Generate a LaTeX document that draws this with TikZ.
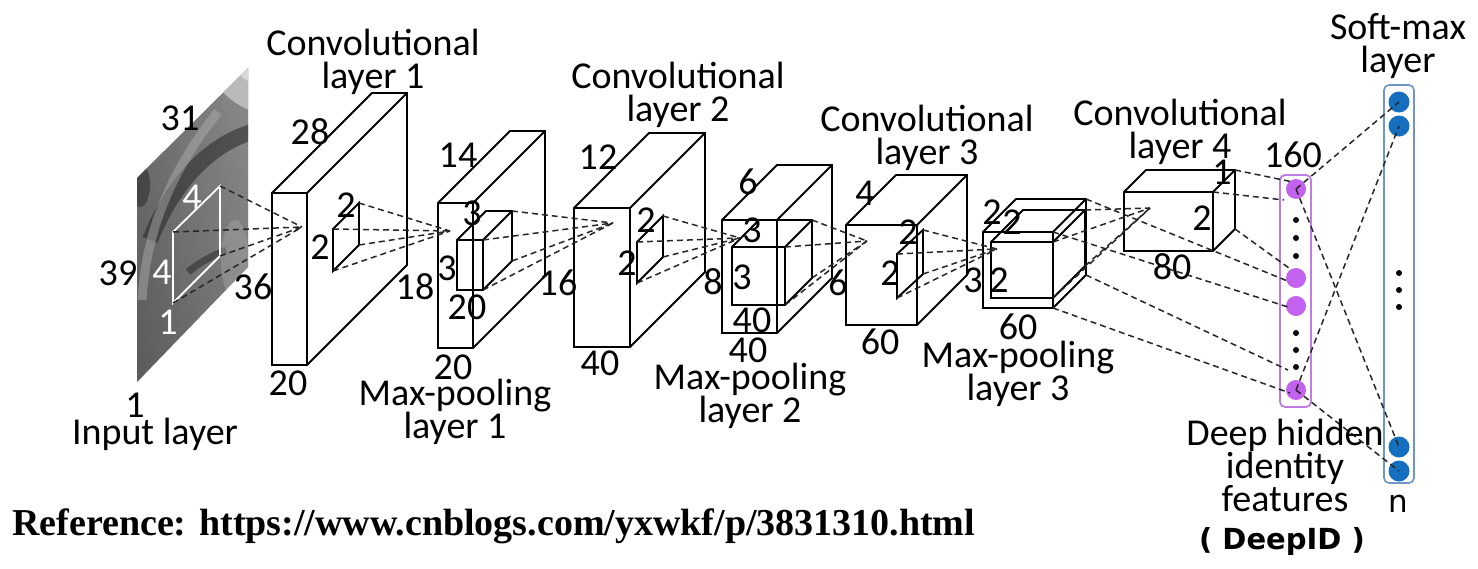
\documentclass[tikz,border=0pt]{standalone}
\usepackage{fontspec}
\setmainfont{Carlito}
\newfontfamily\djv{DejaVu Sans}
\newfontfamily\tms{Liberation Serif}
\definecolor{purp}{RGB}{196,98,240}
\definecolor{purpline}{RGB}{190,125,228}
\definecolor{bdot}{RGB}{22,110,190}
\definecolor{bline}{RGB}{110,150,205}
% #1 name, #2 x, #3 y (front top-left), #4 width, #5 height, #6 depth, #7 style
\newcommand{\drawcuboid}[7]{%
  \coordinate (#1-ftl) at (#2,#3);
  \coordinate (#1-ftr) at (#2+#4,#3);
  \coordinate (#1-fbr) at (#2+#4,#3+#5);
  \coordinate (#1-fbl) at (#2,#3+#5);
  \coordinate (#1-btl) at (#2+#6,#3-#6);
  \coordinate (#1-btr) at (#2+#4+#6,#3-#6);
  \coordinate (#1-bbr) at (#2+#4+#6,#3+#5-#6);
  \draw[box,#7] (#1-ftl) -- (#1-btl) -- (#1-btr) -- (#1-bbr) -- (#1-fbr) -- (#1-fbl) -- cycle;
  \draw[box] (#1-ftl) -- (#1-ftr) -- (#1-fbr) (#1-ftr) -- (#1-btr);
}
\begin{document}
\begin{tikzpicture}[x=1pt,y=-1pt,
  box/.style={line width=1.9pt, line join=miter, black},
  sq/.style={line width=1.9pt, black},
  dl/.style={line width=1.5pt, dash pattern=on 6pt off 4pt, black!85},
  lab/.style={font=\fontsize{38}{33}\selectfont, inner sep=0pt, align=center},
  wlab/.style={lab, text=white},
  pdot/.style={circle, fill=purp, minimum size=20pt, inner sep=0pt},
  bluedot/.style={circle, fill=bdot, minimum size=21pt, inner sep=0pt},
  kdot/.style={circle, fill=black, minimum size=6pt, inner sep=0pt}]
\fill[white] (0,0) rectangle (1478,568);
\useasboundingbox (0,0) rectangle (1478,568);

% ---------- input image ----------
\coordinate (img1) at (137,178);
\coordinate (img2) at (248,68);
\coordinate (img3) at (248,267);
\coordinate (img4) at (137,382);
\begin{scope}
  \clip (img1) -- (img2) -- (img3) -- (img4) -- cycle;
  \shade[top color=black!38, bottom color=black!58] (130,60) rectangle (250,390);
  \shade[left color=black!70, right color=black!50, opacity=0.6] (130,60) rectangle (250,390);
  \fill[black!22, opacity=0.8] (200,60) .. controls (215,90) and (235,105) .. (250,110) -- (250,60) -- cycle;
  \fill[black!12, opacity=0.8] (228,60) .. controls (235,72) and (242,78) .. (250,82) -- (250,60) -- cycle;
  \draw[black!85, line width=16pt, opacity=0.55] (150,240) .. controls (172,185) and (208,145) .. (252,132);
  \draw[black!30, line width=9pt, opacity=0.45] (142,300) .. controls (146,232) and (170,172) .. (218,112);
  \draw[black!90, line width=7pt, opacity=0.45] (188,272) .. controls (200,262) and (212,256) .. (226,250);
  \fill[black!30, opacity=0.35] (235,260) ellipse (14pt and 40pt);
  \fill[black!85, opacity=0.5] (140,185) ellipse (10pt and 22pt);
\end{scope}
\coordinate (w-tl) at (173,232);
\coordinate (w-tr) at (220,186);
\coordinate (w-br) at (220,256);
\coordinate (w-bl) at (173,303);
\draw[white, line width=1.8pt] (w-tl) -- (w-tr) -- (w-br) -- (w-bl) -- cycle;

% ---------- cuboids ----------
\drawcuboid{c1}{272}{193}{35}{172}{100}{fill=white}
\drawcuboid{p1}{438}{203}{35}{145}{72}{fill=white}
\drawcuboid{k1}{457}{240}{26}{50}{29}{}
\drawcuboid{c2}{574}{208}{56}{139}{75}{fill=white}
\drawcuboid{p2}{722}{220}{55}{113}{55}{fill=white}
\drawcuboid{k2}{732}{247}{53}{58}{27}{}
\drawcuboid{c3}{846}{225}{71}{100}{50}{fill=white}
\drawcuboid{p3}{983}{232}{70}{76}{33}{fill=white}
\drawcuboid{k3}{991}{242}{62}{56}{32}{}
\drawcuboid{c4}{1124}{192}{89}{59}{22}{fill=white}

% ---------- 2x2 squares ----------
\coordinate (s1-tl) at (333,229); \coordinate (s1-tr) at (359,203);
\coordinate (s1-br) at (359,245); \coordinate (s1-bl) at (333,271);
\draw[sq] (s1-tl) -- (s1-tr) -- (s1-br) -- (s1-bl) -- cycle;
\coordinate (s2-tl) at (637,242); \coordinate (s2-tr) at (663,216);
\coordinate (s2-br) at (663,257); \coordinate (s2-bl) at (637,283);
\draw[sq] (s2-tl) -- (s2-tr) -- (s2-br) -- (s2-bl) -- cycle;
\coordinate (s3-tl) at (897,254); \coordinate (s3-tr) at (923,230);
\coordinate (s3-br) at (923,274); \coordinate (s3-bl) at (897,298);
\draw[sq] (s3-tl) -- (s3-tr) -- (s3-br) -- (s3-bl) -- cycle;

% ---------- convergence points ----------
\coordinate (c1p) at (302,227);
\coordinate (p1p) at (450,231);
\coordinate (c2p) at (613,223);
\coordinate (p2p) at (740,238);
\coordinate (c3p) at (867,241);
\coordinate (p3p) at (997,249);
\coordinate (c4p) at (1150,208);

\foreach \c in {tl,tr,br,bl} {
  \draw[dl] (w-\c) -- (c1p);
  \draw[dl] (s1-\c) -- (p1p);
  \draw[dl] (s2-\c) -- (p2p);
  \draw[dl] (s3-\c) -- (p3p);
}
\foreach \c in {ftr,btr,bbr,fbr} {
  \draw[dl] (k1-\c) -- (c2p);
  \draw[dl] (k2-\c) -- (c3p);
  \draw[dl] (k3-\c) -- (c4p);
}

% ---------- DeepID column ----------
\draw[purpline, line width=1.8pt, rounded corners=5pt] (1280,175) rectangle (1311,407);
\node[pdot] (pd1) at (1296,189) {};
\node[pdot] (pd2) at (1296,278) {};
\node[pdot] (pd3) at (1296,306) {};
\node[pdot] (pd4) at (1296,390) {};
\node[kdot] (pk1) at (1296,220) {};
\node[kdot] (pk2) at (1296,238) {};
\node[kdot] (pk3) at (1296,256) {};
\node[kdot] (pk4) at (1296,333) {};
\node[kdot] (pk5) at (1296,350) {};
\node[kdot] (pk6) at (1296,367) {};

% ---------- Soft-max column ----------
\draw[bline, line width=1.6pt, rounded corners=5pt] (1384,85) rectangle (1414,483);
\node[bluedot] (sd1) at (1399,102) {};
\node[bluedot] (sd2) at (1399,126) {};
\node[bluedot] (sd3) at (1399,447) {};
\node[bluedot] (sd4) at (1399,471) {};
\node[kdot] (sk1) at (1399,273) {};
\node[kdot] (sk2) at (1399,290) {};
\node[kdot] (sk3) at (1399,307) {};

% ---------- connections into DeepID ----------
\coordinate (d1) at (1293,182);
\coordinate (d2) at (1284,200);
\coordinate (d3) at (1289,268);
\coordinate (d4) at (1290,282);
\coordinate (d5) at (1288,307);
\coordinate (d6) at (1288,370);
\coordinate (d7) at (1290,393);
\draw[dl] (c4-btr) -- (d1);
\draw[dl] (c4-ftr) -- (d2);
\draw[dl] (c4-bbr) -- (d3);
\draw[dl] (p3-btr) -- (d4);
\draw[dl] (p3-ftr) -- (d5);
\draw[dl] (p3-bbr) -- (d6);
\draw[dl] (p3-fbr) -- (d7);

% ---------- DeepID -> Soft-max ----------
\draw[dl] (pd1.center) -- (sd1.center);
\draw[dl] (pd1.center) -- (sd3.center);
\draw[dl] (pd4.center) -- (sd2.center);
\draw[dl] (pd4.center) -- (sd4.center);

% ---------- labels ----------
\node[lab] (t31) at (180,118) {31};
\node[lab] (t39) at (118,273) {39};
\node[lab] (t36) at (253,287) {36};
\node[lab] (tin1) at (135,405) {1};
\node[lab] (tinput) at (155,434) {Input layer};
\node[wlab] (tw4a) at (192,197) {4};
\node[wlab] (tw4b) at (162,272) {4};
\node[wlab] (tw1) at (168,322) {1};

\node[lab] (tc1) at (373,62) {Convolutional\\layer 1};
\node[lab] (t28) at (310,132) {28};
\node[lab] (tc1a) at (346,205) {2};
\node[lab] (tc1b) at (320,247) {2};
\node[lab] (t18) at (415,287) {18};
\node[lab] (t20a) at (288,383) {20};

\node[lab] (tp1) at (455,412) {Max-pooling\\layer 1};
\node[lab] (t14) at (458,155) {14};
\node[lab] (tp1a) at (472,213) {3};
\node[lab] (tp1b) at (447,268) {3};
\node[lab] (t20b) at (467,307) {20};
\node[lab] (t16) at (558,283) {16};
\node[lab] (t20c) at (453,367) {20};

\node[lab] (tc2) at (678,95) {Convolutional\\layer 2};
\node[lab] (t12) at (598,157) {12};
\node[lab] (tc2a) at (646,220) {2};
\node[lab] (tc2b) at (627,263) {2};
\node[lab] (t8) at (713,282) {8};
\node[lab] (t40a) at (600,363) {40};

\node[lab] (tp2) at (750,396) {Max-pooling\\layer 2};
\node[lab] (t6a) at (748,182) {6};
\node[lab] (tp2a) at (752,230) {3};
\node[lab] (tp2b) at (742,277) {3};
\node[lab] (t40b) at (752,320) {40};
\node[lab] (t40c) at (748,350) {40};
\node[lab] (t6b) at (838,283) {6};

\node[lab] (tc3) at (927,138) {Convolutional\\layer 3};
\node[lab] (t4) at (865,193) {4};
\node[lab] (tc3a) at (908,232) {2};
\node[lab] (tc3b) at (890,273) {2};
\node[lab] (t60a) at (880,342) {60};

\node[lab] (tp3) at (1018,374) {Max-pooling\\layer 3};
\node[lab] (tp3a) at (992,212) {2};
\node[lab] (tp3b) at (1012,222) {2};
\node[lab] (t3) at (973,280) {3};
\node[lab] (tp3c) at (999,280) {2};
\node[lab] (t60b) at (1018,327) {60};

\node[lab] (tc4) at (1180,132) {Convolutional\\layer 4};
\node[lab] (tc4a) at (1222,172) {1};
\node[lab] (tc4b) at (1202,218) {2};
\node[lab] (t80) at (1172,267) {80};

\node[lab] (t160) at (1293,155) {160};
\node[lab] (tsoft) at (1398,46) {Soft-max\\layer};
\node[lab] (tdeep) at (1285,465) {Deep hidden\\identity\\features};
\node[inner sep=0pt, font=\djv\fontsize{31}{33}\selectfont] (tn) at (1398,504) {n};
\node[inner sep=0pt, font=\djv\bfseries\fontsize{29}{31}\selectfont] (tdid) at (1282,542) {( DeepID )};
\node[anchor=base west, inner sep=0pt, font=\tms\bfseries\fontsize{38}{40}\selectfont] (tref) at (12,535) {Reference: https://www.cnblogs.com/yxwkf/p/3831310.html};
\end{tikzpicture}
\end{document}
